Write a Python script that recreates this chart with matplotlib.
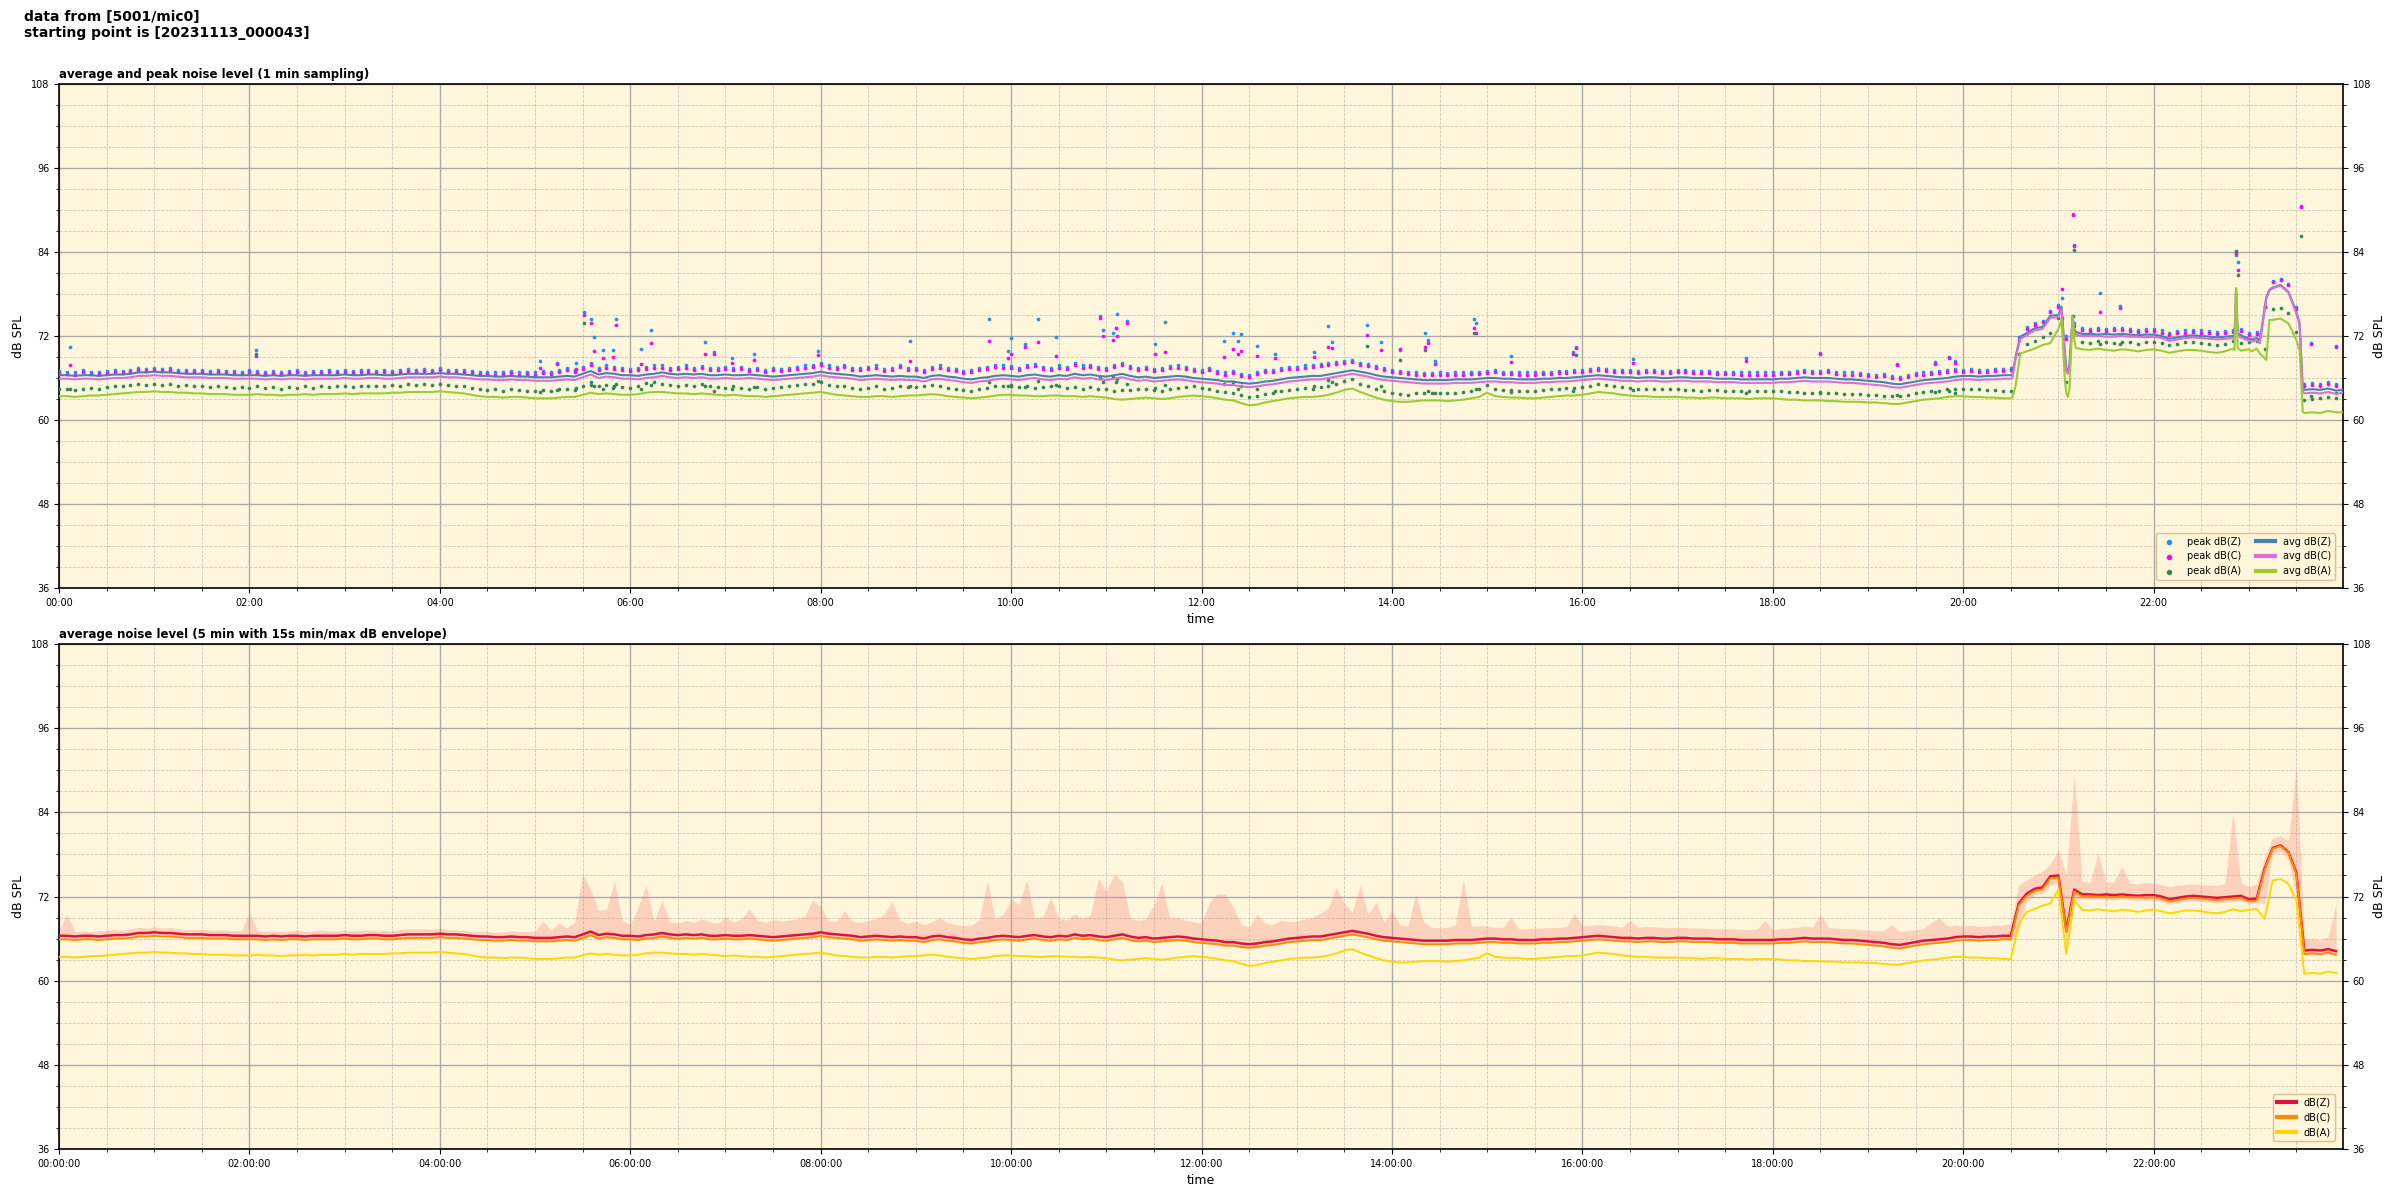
import numpy as np
import matplotlib
matplotlib.use("Agg")
import matplotlib.pyplot as plt
import matplotlib.dates as mdates
from matplotlib.ticker import MultipleLocator

# ---- data (5 min grid, one row per hour) -------------------------------
avg_z = [
    66.4, 66.4, 66.3, 66.4, 66.4, 66.3, 66.4, 66.5, 66.5, 66.6, 66.8, 66.8,
    66.9, 66.8, 66.8, 66.7, 66.6, 66.6, 66.6, 66.5, 66.5, 66.5, 66.4, 66.4,
    66.4, 66.4, 66.3, 66.4, 66.3, 66.4, 66.4, 66.3, 66.4, 66.4, 66.4, 66.4,
    66.5, 66.4, 66.4, 66.5, 66.5, 66.4, 66.4, 66.5, 66.6, 66.6, 66.6, 66.6,
    66.7, 66.6, 66.6, 66.5, 66.4, 66.3, 66.3, 66.2, 66.2, 66.3, 66.2, 66.2,
    66.1, 66.1, 66.1, 66.2, 66.3, 66.2, 66.6, 67.0, 66.5, 66.7, 66.6, 66.4,
    66.4, 66.3, 66.5, 66.6, 66.8, 66.6, 66.5, 66.6, 66.5, 66.6, 66.4, 66.4,
    66.5, 66.4, 66.4, 66.5, 66.4, 66.3, 66.2, 66.3, 66.4, 66.5, 66.6, 66.7,
    66.9, 66.7, 66.6, 66.5, 66.4, 66.2, 66.3, 66.4, 66.3, 66.2, 66.3, 66.2,
    66.2, 66.0, 66.3, 66.4, 66.2, 66.1, 65.9, 65.8, 66.0, 66.1, 66.3, 66.4,
    66.3, 66.2, 66.4, 66.5, 66.3, 66.2, 66.4, 66.3, 66.6, 66.4, 66.5, 66.3,
    66.2, 66.4, 66.6, 66.3, 66.1, 66.2, 66.0, 66.1, 66.2, 66.3, 66.2, 66.0,
    65.9, 65.8, 65.7, 65.5, 65.5, 65.3, 65.2, 65.3, 65.5, 65.6, 65.8, 66.0,
    66.1, 66.2, 66.3, 66.3, 66.5, 66.7, 66.9, 67.1, 66.9, 66.7, 66.4, 66.2,
    66.1, 66.0, 65.9, 65.8, 65.7, 65.7, 65.7, 65.7, 65.8, 65.8, 65.8, 65.9,
    66.0, 66.0, 65.9, 65.9, 65.8, 65.8, 65.8, 65.9, 65.9, 66.0, 66.0, 66.1,
    66.2, 66.3, 66.4, 66.3, 66.2, 66.1, 66.1, 66.0, 66.1, 66.1, 66.0, 66.0,
    66.1, 66.1, 66.0, 66.0, 66.0, 65.9, 65.9, 65.9, 65.8, 65.8, 65.8, 65.8,
    65.8, 65.9, 65.9, 66.0, 66.1, 66.0, 66.0, 66.0, 65.9, 65.8, 65.8, 65.7,
    65.6, 65.5, 65.4, 65.2, 65.1, 65.3, 65.5, 65.7, 65.8, 65.9, 66.0, 66.2,
    66.3, 66.3, 66.2, 66.3, 66.3, 66.4, 66.4, 71.0, 72.4, 73.1, 73.3, 74.9,
    75.0, 67.2, 73.0, 72.3, 72.3, 72.2, 72.3, 72.2, 72.3, 72.2, 72.1, 72.2,
    72.2, 72.0, 71.6, 71.8, 72.0, 72.1, 72.0, 71.9, 71.8, 71.9, 72.0, 72.1,
    71.6, 71.7, 76.0, 78.9, 79.3, 78.3, 75.4, 64.3, 64.4, 64.3, 64.5, 64.2,
]
avg_c = [
    65.9, 65.9, 65.8, 65.9, 65.9, 65.8, 65.9, 66.0, 66.0, 66.1, 66.3, 66.3,
    66.4, 66.3, 66.3, 66.2, 66.1, 66.1, 66.1, 66.0, 66.0, 66.0, 65.9, 65.9,
    65.9, 65.9, 65.8, 65.9, 65.8, 65.9, 65.9, 65.8, 65.9, 65.9, 65.9, 65.9,
    66.0, 65.9, 65.9, 66.0, 66.0, 65.9, 65.9, 66.0, 66.1, 66.1, 66.1, 66.1,
    66.2, 66.1, 66.1, 66.0, 65.9, 65.8, 65.8, 65.7, 65.7, 65.8, 65.7, 65.7,
    65.6, 65.6, 65.6, 65.7, 65.8, 65.7, 66.1, 66.5, 66.0, 66.2, 66.1, 65.9,
    65.9, 65.8, 66.0, 66.1, 66.3, 66.1, 66.0, 66.1, 66.0, 66.1, 65.9, 65.9,
    66.0, 65.9, 65.9, 66.0, 65.9, 65.8, 65.7, 65.8, 65.9, 66.0, 66.1, 66.2,
    66.4, 66.2, 66.1, 66.0, 65.9, 65.7, 65.8, 65.9, 65.8, 65.7, 65.8, 65.7,
    65.7, 65.5, 65.8, 65.9, 65.7, 65.6, 65.4, 65.3, 65.5, 65.6, 65.8, 65.9,
    65.8, 65.7, 65.9, 66.0, 65.8, 65.7, 65.9, 65.8, 66.1, 65.9, 66.0, 65.8,
    65.7, 65.9, 66.1, 65.8, 65.6, 65.7, 65.5, 65.6, 65.7, 65.8, 65.7, 65.5,
    65.4, 65.3, 65.2, 65.0, 65.0, 64.8, 64.7, 64.8, 65.0, 65.1, 65.3, 65.5,
    65.6, 65.7, 65.8, 65.8, 66.0, 66.2, 66.4, 66.6, 66.4, 66.2, 65.9, 65.7,
    65.6, 65.5, 65.4, 65.3, 65.2, 65.2, 65.2, 65.2, 65.3, 65.3, 65.3, 65.4,
    65.5, 65.5, 65.4, 65.4, 65.3, 65.3, 65.3, 65.4, 65.4, 65.5, 65.5, 65.6,
    65.7, 65.8, 65.9, 65.8, 65.7, 65.6, 65.6, 65.5, 65.6, 65.6, 65.5, 65.5,
    65.6, 65.6, 65.5, 65.5, 65.5, 65.4, 65.4, 65.4, 65.3, 65.3, 65.3, 65.3,
    65.3, 65.4, 65.4, 65.5, 65.6, 65.5, 65.5, 65.5, 65.4, 65.3, 65.3, 65.2,
    65.1, 65.0, 64.9, 64.7, 64.6, 64.8, 65.0, 65.2, 65.3, 65.4, 65.5, 65.7,
    65.8, 65.8, 65.7, 65.8, 65.8, 65.9, 65.9, 70.7, 72.1, 72.8, 73.0, 74.6,
    74.7, 66.9, 72.7, 72.0, 72.0, 72.0, 71.9, 71.9, 72.0, 71.9, 71.9, 71.8,
    71.9, 71.7, 71.3, 71.5, 71.7, 71.8, 71.7, 71.6, 71.5, 71.6, 71.7, 71.8,
    71.3, 71.4, 75.8, 78.8, 79.2, 78.2, 75.2, 63.8, 63.9, 63.8, 64.0, 63.7,
]
avg_a = [
    63.4, 63.4, 63.3, 63.4, 63.5, 63.5, 63.6, 63.7, 63.8, 63.9, 64.0, 64.0,
    64.1, 64.0, 64.0, 63.9, 63.9, 63.8, 63.8, 63.7, 63.7, 63.7, 63.6, 63.6,
    63.6, 63.7, 63.6, 63.6, 63.5, 63.6, 63.6, 63.7, 63.6, 63.7, 63.7, 63.7,
    63.8, 63.7, 63.8, 63.8, 63.8, 63.8, 63.9, 63.9, 64.0, 64.0, 64.0, 64.0,
    64.1, 64.0, 63.9, 63.8, 63.6, 63.4, 63.3, 63.3, 63.2, 63.3, 63.3, 63.2,
    63.1, 63.1, 63.1, 63.2, 63.3, 63.3, 63.6, 63.9, 63.7, 63.8, 63.7, 63.6,
    63.6, 63.7, 63.9, 64.0, 64.0, 63.9, 63.8, 63.8, 63.7, 63.8, 63.7, 63.6,
    63.5, 63.6, 63.5, 63.4, 63.4, 63.3, 63.4, 63.5, 63.6, 63.7, 63.8, 63.9,
    64.0, 63.8, 63.6, 63.5, 63.4, 63.3, 63.3, 63.4, 63.4, 63.3, 63.4, 63.5,
    63.5, 63.6, 63.7, 63.6, 63.4, 63.3, 63.2, 63.1, 63.2, 63.3, 63.5, 63.6,
    63.6, 63.5, 63.5, 63.4, 63.4, 63.5, 63.5, 63.4, 63.4, 63.3, 63.4, 63.3,
    63.2, 63.0, 62.9, 63.0, 63.1, 63.2, 63.1, 63.0, 63.1, 63.3, 63.4, 63.5,
    63.4, 63.3, 63.1, 62.9, 62.8, 62.4, 62.1, 62.2, 62.5, 62.7, 62.9, 63.1,
    63.2, 63.3, 63.3, 63.4, 63.6, 63.9, 64.3, 64.5, 64.0, 63.6, 63.2, 62.9,
    62.7, 62.6, 62.6, 62.7, 62.8, 62.8, 62.8, 62.7, 62.8, 62.9, 63.1, 63.3,
    63.9, 63.4, 63.3, 63.2, 63.2, 63.1, 63.1, 63.2, 63.3, 63.4, 63.5, 63.5,
    63.6, 63.8, 64.0, 63.9, 63.8, 63.6, 63.5, 63.4, 63.4, 63.3, 63.3, 63.3,
    63.3, 63.2, 63.2, 63.1, 63.2, 63.2, 63.1, 63.1, 63.1, 63.0, 63.1, 63.1,
    63.1, 63.0, 62.9, 62.9, 62.8, 62.8, 62.8, 62.7, 62.7, 62.6, 62.6, 62.6,
    62.5, 62.5, 62.4, 62.3, 62.3, 62.5, 62.7, 62.9, 63.0, 63.1, 63.3, 63.4,
    63.4, 63.3, 63.3, 63.2, 63.2, 63.1, 63.1, 68.0, 69.8, 70.2, 70.7, 71.0,
    73.0, 63.8, 71.5, 70.1, 70.0, 70.2, 70.0, 69.9, 70.1, 70.0, 69.8, 70.0,
    70.1, 69.9, 69.6, 69.8, 70.0, 70.0, 69.9, 69.7, 69.6, 69.8, 70.2, 69.9,
    70.1, 70.2, 68.8, 74.3, 74.5, 73.8, 71.4, 61.0, 61.1, 61.0, 61.3, 61.1,
]
peak_z = [
    67.0, 66.9, 66.8, 67.1, 66.9, 66.9, 67.0, 67.1, 67.0, 67.2, 67.4, 67.3,
    67.5, 67.3, 67.4, 67.2, 67.1, 67.2, 67.1, 67.0, 67.1, 67.0, 67.0, 66.9,
    67.1, 67.0, 66.9, 67.0, 66.9, 67.0, 67.1, 66.9, 67.0, 67.0, 67.1, 67.0,
    67.1, 67.0, 67.2, 67.1, 67.0, 67.1, 67.0, 67.2, 67.3, 67.2, 67.3, 67.2,
    67.4, 67.2, 67.1, 67.1, 67.0, 66.9, 66.9, 66.8, 66.9, 67.0, 66.8, 66.9,
    66.8, 67.0, 66.9, 67.2, 67.4, 67.1, 67.6, 68.2, 67.5, 67.8, 67.6, 67.4,
    67.3, 67.4, 67.6, 67.9, 67.8, 67.5, 67.6, 67.8, 67.4, 67.7, 67.5, 67.4,
    67.6, 67.4, 67.6, 67.3, 67.5, 67.2, 67.4, 67.3, 67.5, 67.6, 67.8, 67.9,
    68.2, 67.8, 67.6, 67.9, 67.5, 67.4, 67.6, 67.8, 67.3, 67.5, 67.9, 67.4,
    67.5, 67.2, 67.6, 67.8, 67.4, 67.3, 67.0, 67.1, 67.4, 67.6, 67.9, 67.8,
    67.7, 67.5, 67.9, 68.0, 67.6, 67.5, 67.8, 67.6, 68.1, 67.8, 67.9, 67.6,
    67.5, 67.9, 68.2, 67.7, 67.4, 67.6, 67.3, 67.5, 67.7, 67.8, 67.6, 67.3,
    67.2, 67.5, 67.0, 66.8, 67.0, 66.6, 66.5, 66.9, 67.2, 67.1, 67.4, 67.6,
    67.6, 67.8, 67.9, 68.0, 68.1, 68.3, 68.5, 68.6, 68.2, 68.0, 67.7, 67.4,
    67.2, 67.0, 66.9, 66.8, 66.7, 66.7, 66.8, 66.7, 66.8, 66.8, 66.9, 66.9,
    67.0, 67.1, 66.9, 66.9, 66.8, 66.8, 66.8, 66.9, 66.9, 67.0, 67.0, 67.1,
    67.2, 67.3, 67.4, 67.3, 67.2, 67.1, 67.1, 67.0, 67.1, 67.1, 67.0, 67.0,
    67.1, 67.1, 67.0, 67.0, 67.0, 66.9, 66.9, 66.9, 66.8, 66.8, 66.8, 66.8,
    66.8, 66.9, 66.9, 67.0, 67.2, 67.0, 67.0, 67.1, 66.9, 66.8, 66.8, 66.7,
    66.6, 66.5, 66.6, 66.3, 66.2, 66.4, 66.7, 66.8, 66.9, 67.0, 67.1, 67.3,
    67.2, 67.3, 67.1, 67.2, 67.3, 67.3, 67.4, 71.8, 73.3, 73.9, 74.2, 75.6,
    76.5, 72.0, 73.8, 73.1, 73.0, 73.2, 73.0, 73.1, 73.2, 73.0, 72.9, 73.0,
    73.0, 72.8, 72.4, 72.7, 72.8, 72.9, 72.8, 72.7, 72.6, 72.7, 72.9, 73.0,
    72.5, 72.6, 76.3, 79.8, 80.1, 79.5, 76.2, 65.2, 65.3, 65.1, 65.4, 65.2,
]
peak_c = [
    66.7, 66.6, 66.5, 66.8, 66.6, 66.6, 66.7, 66.8, 66.7, 66.9, 67.1, 67.0,
    67.2, 67.0, 67.1, 66.9, 66.8, 66.9, 66.8, 66.7, 66.8, 66.7, 66.7, 66.6,
    66.8, 66.7, 66.6, 66.7, 66.6, 66.7, 66.8, 66.6, 66.7, 66.7, 66.8, 66.7,
    66.8, 66.7, 66.9, 66.8, 66.7, 66.8, 66.7, 66.9, 67.0, 66.9, 67.0, 66.9,
    67.1, 66.9, 66.8, 66.8, 66.7, 66.6, 66.6, 66.5, 66.6, 66.7, 66.5, 66.6,
    66.5, 66.7, 66.6, 66.9, 67.1, 66.8, 67.3, 67.8, 67.2, 67.5, 67.3, 67.1,
    67.0, 67.1, 67.3, 67.5, 67.5, 67.2, 67.3, 67.5, 67.1, 67.4, 67.2, 67.1,
    67.3, 67.1, 67.3, 67.0, 67.2, 66.9, 67.1, 67.0, 67.2, 67.3, 67.5, 67.6,
    67.9, 67.5, 67.3, 67.6, 67.2, 67.1, 67.3, 67.5, 67.0, 67.2, 67.6, 67.1,
    67.2, 66.9, 67.3, 67.5, 67.1, 67.0, 66.7, 66.8, 67.1, 67.3, 67.6, 67.5,
    67.4, 67.2, 67.6, 67.7, 67.3, 67.2, 67.5, 67.3, 67.8, 67.5, 67.6, 67.3,
    67.2, 67.6, 67.9, 67.4, 67.1, 67.3, 67.0, 67.2, 67.4, 67.5, 67.3, 67.0,
    66.9, 67.2, 66.7, 66.5, 66.7, 66.3, 66.2, 66.6, 66.9, 66.8, 67.1, 67.3,
    67.3, 67.5, 67.6, 67.7, 67.8, 68.0, 68.2, 68.3, 67.9, 67.7, 67.4, 67.1,
    66.9, 66.7, 66.6, 66.5, 66.4, 66.4, 66.5, 66.4, 66.5, 66.5, 66.6, 66.6,
    66.7, 66.8, 66.6, 66.6, 66.5, 66.5, 66.5, 66.6, 66.6, 66.7, 66.7, 66.8,
    66.9, 67.0, 67.1, 67.0, 66.9, 66.8, 66.8, 66.7, 66.8, 66.8, 66.7, 66.7,
    66.8, 66.8, 66.7, 66.7, 66.7, 66.6, 66.6, 66.6, 66.5, 66.5, 66.5, 66.5,
    66.5, 66.6, 66.6, 66.7, 66.9, 66.7, 66.7, 66.8, 66.6, 66.5, 66.5, 66.4,
    66.3, 66.2, 66.3, 66.0, 65.9, 66.1, 66.4, 66.5, 66.6, 66.7, 66.8, 67.0,
    66.9, 67.0, 66.8, 66.9, 67.0, 67.0, 67.1, 71.5, 73.0, 73.6, 74.0, 75.4,
    76.2, 71.6, 73.5, 72.8, 72.7, 72.9, 72.7, 72.8, 72.9, 72.7, 72.6, 72.7,
    72.7, 72.5, 72.1, 72.4, 72.5, 72.6, 72.5, 72.4, 72.3, 72.4, 72.6, 72.7,
    72.2, 72.3, 76.1, 79.7, 80.0, 79.3, 75.9, 64.9, 65.0, 64.8, 65.1, 64.9,
]
peak_a = [
    64.5, 64.4, 64.3, 64.5, 64.6, 64.5, 64.7, 64.8, 64.9, 65.0, 65.1, 65.0,
    65.2, 65.0, 65.1, 64.9, 65.0, 64.8, 64.9, 64.7, 64.8, 64.7, 64.6, 64.7,
    64.6, 64.8, 64.6, 64.7, 64.5, 64.7, 64.6, 64.8, 64.6, 64.8, 64.7, 64.8,
    64.8, 64.7, 64.9, 64.8, 64.9, 64.8, 65.0, 64.9, 65.1, 65.0, 65.1, 65.0,
    65.2, 65.0, 64.9, 64.9, 64.6, 64.5, 64.3, 64.4, 64.2, 64.4, 64.3, 64.2,
    64.1, 64.3, 64.1, 64.4, 64.5, 64.3, 64.9, 65.4, 64.8, 65.0, 64.9, 64.7,
    64.6, 64.9, 65.3, 65.4, 65.2, 65.0, 64.9, 65.0, 64.8, 65.1, 64.9, 64.7,
    64.6, 64.8, 64.6, 64.5, 64.7, 64.4, 64.6, 64.7, 64.8, 65.0, 65.1, 65.2,
    65.4, 65.0, 64.8, 64.9, 64.6, 64.5, 64.6, 64.8, 64.5, 64.6, 64.8, 64.7,
    64.7, 64.9, 65.0, 64.8, 64.6, 64.5, 64.3, 64.2, 64.4, 64.6, 64.9, 64.9,
    64.8, 64.7, 64.9, 64.6, 64.7, 64.8, 64.8, 64.6, 64.7, 64.5, 64.7, 64.5,
    64.4, 64.2, 64.3, 64.3, 64.4, 64.5, 64.3, 64.2, 64.4, 64.6, 64.7, 64.8,
    64.6, 64.5, 64.2, 64.0, 63.9, 63.6, 63.3, 63.5, 63.7, 63.9, 64.1, 64.3,
    64.4, 64.6, 64.5, 64.7, 64.9, 65.2, 65.6, 65.8, 65.2, 64.8, 64.4, 64.1,
    63.8, 63.7, 63.6, 63.8, 63.9, 63.9, 63.9, 63.8, 63.9, 64.0, 64.2, 64.4,
    65.0, 64.5, 64.3, 64.3, 64.2, 64.2, 64.1, 64.3, 64.4, 64.5, 64.6, 64.6,
    64.7, 64.9, 65.1, 65.0, 64.9, 64.7, 64.6, 64.5, 64.5, 64.4, 64.4, 64.4,
    64.4, 64.3, 64.3, 64.2, 64.3, 64.3, 64.2, 64.2, 64.2, 64.1, 64.2, 64.2,
    64.2, 64.1, 64.0, 64.0, 63.9, 63.9, 63.9, 63.8, 63.8, 63.7, 63.7, 63.7,
    63.6, 63.6, 63.5, 63.4, 63.4, 63.6, 63.8, 64.0, 64.1, 64.2, 64.4, 64.5,
    64.5, 64.4, 64.4, 64.3, 64.3, 64.2, 64.2, 69.5, 70.8, 71.3, 71.8, 72.4,
    74.6, 65.5, 72.5, 71.2, 71.0, 71.3, 71.1, 71.0, 71.2, 71.1, 70.9, 71.1,
    71.2, 71.0, 70.7, 70.9, 71.1, 71.1, 71.0, 70.8, 70.7, 70.9, 71.3, 71.0,
    71.2, 71.3, 70.2, 75.8, 76.0, 75.3, 72.6, 62.9, 63.0, 63.1, 63.3, 63.2,
]

# extra 1-min samples around the sharp events in the evening
detail_min = [1231, 1233, 1236, 1262, 1264, 1266, 1267, 1269, 1271, 1371,
              1372, 1373, 1382, 1387, 1391, 1393, 1412, 1414, 1439]
detail_z = [66.5, 69.0, 71.9, 76.2, 70.0, 67.0, 68.0, 74.9, 72.6, 72.0,
            78.8, 72.4, 71.5, 71.4, 77.5, 78.6, 73.9, 64.6, 64.3]
detail_c = [66.0, 68.7, 71.6, 75.8, 69.6, 66.6, 67.6, 74.6, 72.2, 71.7,
            78.6, 72.0, 71.2, 71.0, 77.3, 78.5, 73.7, 64.2, 63.9]
detail_a = [63.2, 64.8, 69.5, 74.3, 66.0, 63.3, 64.5, 74.8, 70.3, 70.0,
            78.8, 70.3, 69.8, 69.5, 68.6, 74.3, 70.0, 61.2, 61.1]

# isolated loud peaks (minute of day, Z, C, A)
spike_min = [7, 124, 303, 314, 326, 331, 335, 337, 343, 349, 351, 367, 373,
             407, 413, 424, 438, 478, 536, 586, 598, 600, 609, 617, 628, 656,
             658, 664, 666, 667, 673, 691, 697, 734, 740, 743, 745, 755, 766,
             791, 800, 802, 824, 833, 845, 861, 863, 867, 892, 893, 915, 954,
             956, 992, 1063, 1110, 1158, 1182, 1191, 1195, 1262, 1269, 1270,
             1286, 1299, 1372, 1373, 1413, 1419, 1435]
spike_z = [70.4, 70.0, 68.4, 68.2, 68.2, 75.4, 74.4, 71.9, 70.0, 70.0, 74.4,
           70.2, 72.9, 71.1, 69.7, 68.8, 69.4, 69.8, 71.3, 74.4, 69.9, 71.7,
           70.9, 74.5, 71.8, 74.8, 72.9, 72.4, 73.1, 75.2, 74.2, 70.9, 74.0,
           71.3, 72.4, 71.3, 72.3, 70.6, 69.5, 69.7, 73.4, 71.1, 73.6, 71.2,
           70.0, 72.4, 71.5, 68.5, 74.5, 73.8, 69.1, 69.7, 70.5, 68.7, 68.8,
           69.6, 68.0, 68.3, 69.0, 68.5, 77.4, 89.5, 85.0, 78.2, 76.3, 83.6,
           82.6, 90.6, 71.0, 70.6]
spike_c = [67.8, 69.1, 67.5, 68.0, 67.3, 75.0, 73.8, 69.9, 68.9, 69.0, 73.6,
           68.0, 71.0, 69.4, 69.4, 68.2, 68.6, 69.3, 68.5, 71.3, 68.8, 69.5,
           70.4, 71.1, 69.2, 74.6, 72.0, 71.5, 73.1, 72.0, 73.8, 69.5, 69.7,
           69.0, 70.2, 69.5, 69.8, 69.2, 68.8, 69.0, 70.5, 70.3, 72.1, 70.0,
           70.1, 70.5, 71.0, 68.0, 73.1, 72.4, 68.3, 69.5, 70.3, 68.2, 68.4,
           69.5, 67.8, 68.0, 68.8, 68.2, 78.7, 89.3, 84.9, 75.4, 76.0, 83.9,
           81.5, 90.5, 70.8, 70.5]
spike_a = [64.5, 69.4, 64.0, 64.3, 64.6, 73.8, 65.0, 64.8, 64.4, 64.6, 65.2,
           64.5, 65.0, 64.8, 64.2, 64.5, 64.7, 65.6, 64.9, 65.5, 64.8, 65.0,
           64.7, 65.6, 65.0, 66.0, 65.4, 66.2, 65.5, 65.8, 65.2, 64.6, 65.0,
           65.1, 65.4, 64.4, 64.8, 64.5, 64.1, 64.9, 65.7, 65.5, 70.6, 64.9,
           68.6, 70.0, 64.2, 63.8, 72.5, 64.5, 64.0, 64.2, 69.3, 64.3, 63.9,
           64.0, 63.6, 64.0, 64.2, 63.8, 74.6, 74.9, 84.3, 70.8, 70.9, 84.2,
           80.7, 86.3, 63.5, 63.8]

# 15 s max / min of dB(Z) inside each 5 min block
env_hi = [
    67.2, 69.5, 67.0, 67.1, 67.0, 67.1, 67.2, 67.3, 67.2, 67.4, 67.6, 67.5,
    67.7, 67.5, 67.6, 67.4, 67.3, 67.3, 67.3, 67.2, 67.2, 67.2, 67.1, 67.1,
    69.8, 67.2, 67.0, 67.1, 67.0, 67.1, 67.2, 67.0, 67.1, 67.2, 67.1, 67.1,
    67.2, 67.1, 67.2, 67.2, 67.1, 67.2, 67.1, 67.3, 67.4, 67.4, 67.4, 67.3,
    67.5, 67.3, 67.2, 67.2, 67.0, 67.0, 67.0, 66.9, 67.0, 67.1, 67.0, 67.0,
    67.0, 68.5, 67.2, 68.2, 67.5, 68.4, 75.2, 73.0, 70.0, 70.2, 74.2, 68.6,
    68.0, 70.5, 73.6, 68.5, 71.4, 68.4, 68.2, 68.6, 68.3, 68.8, 68.4, 68.2,
    69.0, 68.4, 68.8, 70.2, 68.6, 68.3, 68.7, 68.5, 68.6, 68.8, 69.2, 71.5,
    70.5, 68.6, 68.4, 70.0, 68.4, 68.3, 68.6, 68.8, 69.5, 71.3, 68.6, 68.2,
    68.5, 68.0, 68.4, 69.0, 68.2, 68.0, 67.8, 68.0, 68.6, 74.2, 68.8, 69.5,
    71.6, 70.8, 74.4, 68.9, 69.2, 71.8, 68.9, 68.6, 69.5, 68.9, 69.4, 74.6,
    72.8, 75.2, 74.1, 69.0, 68.6, 68.8, 70.8, 73.9, 68.9, 69.0, 68.6, 68.4,
    68.2, 71.2, 72.4, 72.3, 70.5, 68.0, 67.6, 69.5, 68.2, 68.0, 68.6, 68.4,
    68.5, 68.8, 69.0, 69.6, 70.4, 73.3, 71.0, 69.8, 73.6, 69.4, 71.2, 68.4,
    70.0, 68.0, 67.8, 72.4, 68.4, 67.6, 67.6, 67.6, 68.0, 74.4, 67.8, 67.8,
    67.8, 67.6, 67.6, 69.0, 67.4, 67.4, 67.5, 67.5, 67.6, 67.6, 67.7, 69.6,
    67.8, 67.9, 68.0, 67.9, 67.8, 67.6, 68.6, 67.6, 67.7, 67.7, 67.6, 67.6,
    67.6, 67.6, 67.5, 67.5, 67.4, 67.4, 67.4, 67.4, 67.3, 67.3, 67.3, 68.6,
    67.3, 67.4, 67.5, 67.6, 67.8, 67.6, 69.5, 67.6, 67.5, 67.4, 67.4, 67.3,
    67.2, 67.1, 67.2, 68.0, 67.0, 67.1, 67.3, 67.4, 68.3, 69.0, 67.8, 67.9,
    67.8, 67.9, 67.7, 67.8, 67.9, 67.9, 68.2, 73.6, 74.4, 75.0, 75.6, 76.6,
    78.7, 75.0, 89.6, 74.2, 74.0, 78.2, 74.0, 74.1, 76.3, 73.9, 73.8, 74.0,
    73.9, 73.7, 73.4, 73.6, 73.7, 73.8, 73.7, 73.6, 73.6, 73.8, 84.0, 74.0,
    73.4, 73.8, 77.8, 80.4, 80.6, 80.0, 90.7, 66.0, 66.0, 65.8, 66.3, 71.0,
]
env_lo = [
    66.0, 66.0, 65.9, 66.0, 66.0, 65.9, 66.0, 66.1, 66.1, 66.2, 66.4, 66.4,
    66.5, 66.4, 66.4, 66.3, 66.2, 66.2, 66.2, 66.1, 66.1, 66.1, 66.0, 66.0,
    66.0, 66.0, 65.9, 66.0, 65.9, 66.0, 66.0, 65.9, 66.0, 66.0, 66.0, 66.0,
    66.1, 66.0, 66.0, 66.1, 66.1, 66.0, 66.0, 66.1, 66.2, 66.2, 66.2, 66.2,
    66.3, 66.2, 66.2, 66.1, 66.0, 65.9, 65.9, 65.8, 65.8, 65.9, 65.8, 65.8,
    65.7, 65.7, 65.7, 65.8, 65.9, 65.8, 65.9, 66.2, 65.9, 66.1, 66.0, 65.8,
    65.8, 65.7, 65.9, 66.0, 66.1, 65.9, 65.9, 66.0, 65.9, 66.0, 65.8, 65.8,
    65.9, 65.8, 65.8, 65.9, 65.8, 65.7, 65.6, 65.7, 65.8, 65.9, 66.0, 66.1,
    66.2, 66.1, 66.0, 65.9, 65.8, 65.6, 65.7, 65.8, 65.7, 65.6, 65.7, 65.6,
    65.6, 65.4, 65.7, 65.8, 65.6, 65.5, 65.3, 65.2, 65.4, 65.5, 65.7, 65.8,
    65.7, 65.6, 65.8, 65.9, 65.7, 65.6, 65.8, 65.7, 66.0, 65.8, 65.9, 65.7,
    65.6, 65.8, 66.0, 65.7, 65.5, 65.6, 65.4, 65.5, 65.6, 65.7, 65.6, 65.4,
    65.3, 65.2, 65.1, 64.9, 64.9, 64.7, 64.6, 64.7, 64.9, 65.0, 65.2, 65.4,
    65.5, 65.6, 65.7, 65.7, 65.9, 66.1, 66.3, 66.5, 66.3, 66.1, 65.8, 65.6,
    65.7, 65.6, 65.5, 65.4, 65.3, 65.3, 65.3, 65.3, 65.4, 65.4, 65.4, 65.5,
    65.6, 65.6, 65.5, 65.5, 65.4, 65.4, 65.4, 65.5, 65.5, 65.6, 65.6, 65.7,
    65.8, 65.9, 66.0, 65.9, 65.8, 65.7, 65.7, 65.6, 65.7, 65.7, 65.6, 65.6,
    65.7, 65.7, 65.6, 65.6, 65.6, 65.5, 65.5, 65.5, 65.4, 65.4, 65.4, 65.4,
    65.4, 65.5, 65.5, 65.6, 65.7, 65.6, 65.6, 65.6, 65.5, 65.4, 65.4, 65.3,
    65.2, 65.1, 65.0, 64.8, 64.7, 64.9, 65.1, 65.3, 65.4, 65.5, 65.6, 65.8,
    65.9, 65.9, 65.8, 65.9, 65.9, 66.0, 66.0, 67.0, 71.4, 72.2, 72.5, 73.6,
    74.0, 65.0, 71.5, 71.7, 71.6, 71.6, 71.5, 71.5, 71.6, 71.5, 71.4, 71.5,
    71.5, 71.3, 70.9, 71.1, 71.3, 71.4, 71.3, 71.2, 71.1, 71.2, 71.3, 71.4,
    70.9, 71.1, 71.0, 78.0, 78.5, 77.2, 72.0, 63.6, 63.7, 63.6, 63.8, 63.5,
]

# ---- helpers ------------------------------------------------------------
day0 = np.datetime64("2023-11-13T00:00:00")


def to_time(minutes):
    secs = np.round(np.asarray(minutes, dtype=float) * 60).astype("int64")
    return day0 + secs.astype("timedelta64[s]")


grid_min = np.arange(0, 1440, 5)

# merge the 5 min grid with the extra evening samples
all_min = np.concatenate([grid_min, detail_min])
order = np.argsort(all_min, kind="stable")
t_line = to_time(all_min[order])
line_z = np.concatenate([avg_z, detail_z])[order]
line_c = np.concatenate([avg_c, detail_c])[order]
line_a = np.concatenate([avg_a, detail_a])[order]

t_grid = to_time(grid_min)
t_spike = to_time(spike_min)

bg = "#fff6dc"
plt.rcParams["font.family"] = "DejaVu Sans"
plt.rcParams["font.size"] = 7

fig = plt.figure(figsize=(24, 12), dpi=100)
ax1 = fig.add_axes([0.0246, 0.51, 0.9516, 0.42])
ax2 = fig.add_axes([0.0246, 0.0425, 0.9516, 0.4208])

fig.text(0.01, 0.992, "data from [5001/mic0]\nstarting point is [20231113_000043]",
         ha="left", va="top", fontsize=10, fontweight="bold")


def style_axes(ax, fmt):
    ax.set_facecolor(bg)
    ax.set_ylim(36, 108)
    ax.set_xlim(to_time(0), to_time(1439.3))
    ax.yaxis.set_major_locator(MultipleLocator(12))
    ax.yaxis.set_minor_locator(MultipleLocator(3))
    ax.xaxis.set_major_locator(mdates.HourLocator(byhour=range(0, 24, 2)))
    ax.xaxis.set_minor_locator(mdates.MinuteLocator(byminute=[0, 30]))
    ax.xaxis.set_major_formatter(mdates.DateFormatter(fmt))
    ax.grid(which="major", color="#aaaaaa", linewidth=1.0)
    ax.grid(which="minor", color="#cdc6b6", linewidth=0.6, linestyle="--")
    ax.set_axisbelow(True)
    ax.tick_params(which="both", labelsize=7, right=True, labelright=True)
    for sp in ax.spines.values():
        sp.set_linewidth(1.2)
    ax.set_xlabel("time", fontsize=9)
    ax.set_ylabel("dB SPL", fontsize=9)
    sec = ax.secondary_yaxis("right")
    sec.set_yticks([])
    sec.spines["right"].set_visible(False)
    sec.set_ylabel("dB SPL", fontsize=9, labelpad=22)


# ---- top: 1 min average and peak -----------------------------------------
style_axes(ax1, "%H:%M")
ax1.set_title("average and peak noise level (1 min sampling)", loc="left",
              fontsize=8.5, fontweight="bold", pad=4)

t_peak = np.concatenate([t_grid, t_spike])
pz = ax1.scatter(t_peak, np.concatenate([peak_z, spike_z]),
                 s=7, color="dodgerblue", linewidths=0, label="peak dB(Z)", zorder=3)
pc = ax1.scatter(t_peak, np.concatenate([peak_c, spike_c]),
                 s=7, color="magenta", linewidths=0, label="peak dB(C)", zorder=3)
pa = ax1.scatter(t_peak, np.concatenate([peak_a, spike_a]),
                 s=7, color="seagreen", linewidths=0, label="peak dB(A)", zorder=3)
lz, = ax1.plot(t_line, line_z, color="steelblue", linewidth=1.5, label="avg dB(Z)", zorder=4)
lc, = ax1.plot(t_line, line_c, color="orchid", linewidth=1.5, label="avg dB(C)", zorder=4)
la, = ax1.plot(t_line, line_a, color="yellowgreen", linewidth=1.5, label="avg dB(A)", zorder=4)

leg1 = ax1.legend(handles=[pz, pc, pa, lz, lc, la], loc="lower right", ncol=2,
                  fontsize=7, markerscale=1.5, facecolor=bg, edgecolor="#dcc08e",
                  framealpha=1, borderaxespad=0.8, columnspacing=1.5)
for h in leg1.legend_handles[3:]:
    h.set_linewidth(3)

# ---- bottom: 5 min average with envelope -----------------------------------
style_axes(ax2, "%H:%M:%S")
ax2.set_title("average noise level (5 min with 15s min/max dB envelope)", loc="left",
              fontsize=8.5, fontweight="bold", pad=4)

ax2.fill_between(t_grid, env_lo, env_hi, color="salmon", alpha=0.3, linewidth=0, zorder=2)
ax2.plot(t_grid, avg_z, color="crimson", linewidth=1.8, label="dB(Z)", zorder=4)
ax2.plot(t_grid, avg_c, color="darkorange", linewidth=1.4, label="dB(C)", zorder=4)
ax2.plot(t_grid, avg_a, color="gold", linewidth=1.4, label="dB(A)", zorder=4)

leg2 = ax2.legend(loc="lower right", fontsize=7, facecolor=bg, edgecolor="#dcc08e",
                  framealpha=1, borderaxespad=0.8)
for h in leg2.legend_handles:
    h.set_linewidth(3)

fig.savefig("out.png", dpi=100)
